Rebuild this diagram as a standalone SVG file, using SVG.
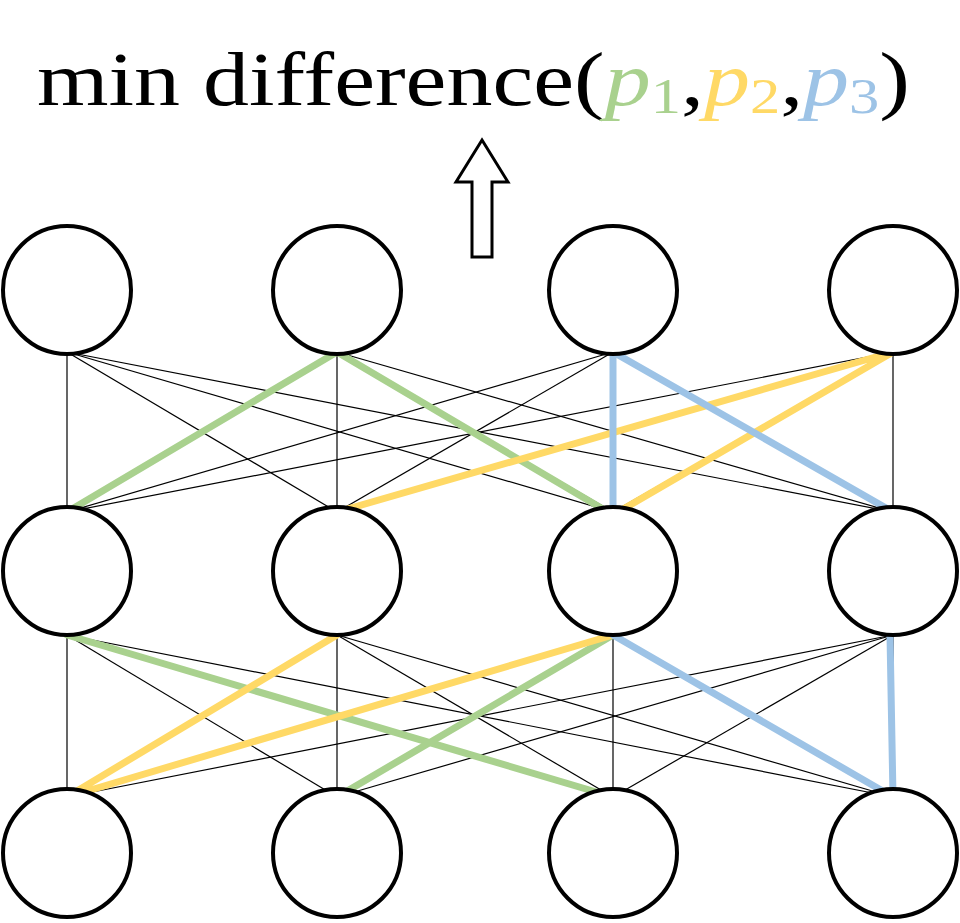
<svg xmlns="http://www.w3.org/2000/svg" width="960" height="923" viewBox="0 0 960 923">
<style>
.n{fill:#fff;stroke:#000;stroke-width:4}
.t{stroke:#000;stroke-width:1.2}
.g{stroke:#a9d18e;stroke-width:7;stroke-linecap:round}
.y{stroke:#ffd966;stroke-width:7;stroke-linecap:round}
.b{stroke:#9dc3e6;stroke-width:7;stroke-linecap:round}
text{font-family:"Liberation Serif",serif;font-size:76px}
</style>
<rect width="960" height="923" fill="#fff"/>
<text x="37" y="105" textLength="873" lengthAdjust="spacingAndGlyphs">min difference(<tspan fill="#a9d18e" font-style="italic">p</tspan><tspan fill="#a9d18e" font-size="50" dy="8">1</tspan><tspan dy="-8">,</tspan><tspan fill="#ffd966" font-style="italic">p</tspan><tspan fill="#ffd966" font-size="50" dy="8">2</tspan><tspan dy="-8">,</tspan><tspan fill="#9dc3e6" font-style="italic">p</tspan><tspan fill="#9dc3e6" font-size="50" dy="8">3</tspan><tspan dy="-8">)</tspan></text>
<path d="M482,140 L508,182 L492,182 L492,257 L472,257 L472,182 L456,182 Z" fill="#fff" stroke="#000" stroke-width="3"/>
<g id="connectors">
<g class="t">
<line x1="67" y1="352" x2="67" y2="512"/><line x1="67" y1="352" x2="337" y2="512"/><line x1="67" y1="352" x2="613" y2="512"/><line x1="67" y1="352" x2="893" y2="512"/>
<line x1="337" y1="352" x2="67" y2="512"/><line x1="337" y1="352" x2="337" y2="512"/><line x1="337" y1="352" x2="613" y2="512"/><line x1="337" y1="352" x2="893" y2="512"/>
<line x1="613" y1="352" x2="67" y2="512"/><line x1="613" y1="352" x2="337" y2="512"/><line x1="613" y1="352" x2="613" y2="512"/><line x1="613" y1="352" x2="893" y2="512"/>
<line x1="893" y1="352" x2="67" y2="512"/><line x1="893" y1="352" x2="337" y2="512"/><line x1="893" y1="352" x2="613" y2="512"/><line x1="893" y1="352" x2="893" y2="512"/>
<line x1="67" y1="635" x2="67" y2="797"/><line x1="67" y1="635" x2="337" y2="797"/><line x1="67" y1="635" x2="613" y2="797"/><line x1="67" y1="635" x2="893" y2="797"/>
<line x1="337" y1="635" x2="67" y2="797"/><line x1="337" y1="635" x2="337" y2="797"/><line x1="337" y1="635" x2="613" y2="797"/><line x1="337" y1="635" x2="893" y2="797"/>
<line x1="613" y1="635" x2="67" y2="797"/><line x1="613" y1="635" x2="337" y2="797"/><line x1="613" y1="635" x2="613" y2="797"/><line x1="613" y1="635" x2="893" y2="797"/>
<line x1="893" y1="635" x2="67" y2="797"/><line x1="893" y1="635" x2="337" y2="797"/><line x1="893" y1="635" x2="613" y2="797"/><line x1="893" y1="635" x2="893" y2="797"/>
</g>
<polyline class="g" fill="none" points="67,512 337,352 613,515"/>
<polyline class="y" fill="none" points="337,512 893,352 613,515"/>
<polyline class="b" fill="none" points="613,515 613,352 893,512"/>
<line class="g" x1="67" y1="635" x2="613" y2="797"/>
<line class="g" x1="337" y1="797" x2="613" y2="635"/>
<polyline class="y" fill="none" points="337,635 67,797 613,635"/>
<line class="b" x1="613" y1="635" x2="893" y2="797"/>
<line class="b" x1="890" y1="635" x2="893" y2="797"/>
</g>
<g id="n11"><circle class="n" cx="67" cy="290" r="64"/></g>
<g id="n12"><circle class="n" cx="337" cy="290" r="64"/></g>
<g id="n13"><circle class="n" cx="613" cy="290" r="64"/></g>
<g id="n14"><circle class="n" cx="893" cy="290" r="64"/></g>
<g id="n21"><circle class="n" cx="67" cy="571" r="64"/></g>
<g id="n22"><circle class="n" cx="337" cy="571" r="64"/></g>
<g id="n23"><circle class="n" cx="613" cy="571" r="64"/></g>
<g id="n24"><circle class="n" cx="893" cy="571" r="64"/></g>
<g id="n31"><circle class="n" cx="67" cy="853" r="64"/></g>
<g id="n32"><circle class="n" cx="337" cy="853" r="64"/></g>
<g id="n33"><circle class="n" cx="613" cy="853" r="64"/></g>
<g id="n34"><circle class="n" cx="893" cy="853" r="64"/></g>
</svg>
